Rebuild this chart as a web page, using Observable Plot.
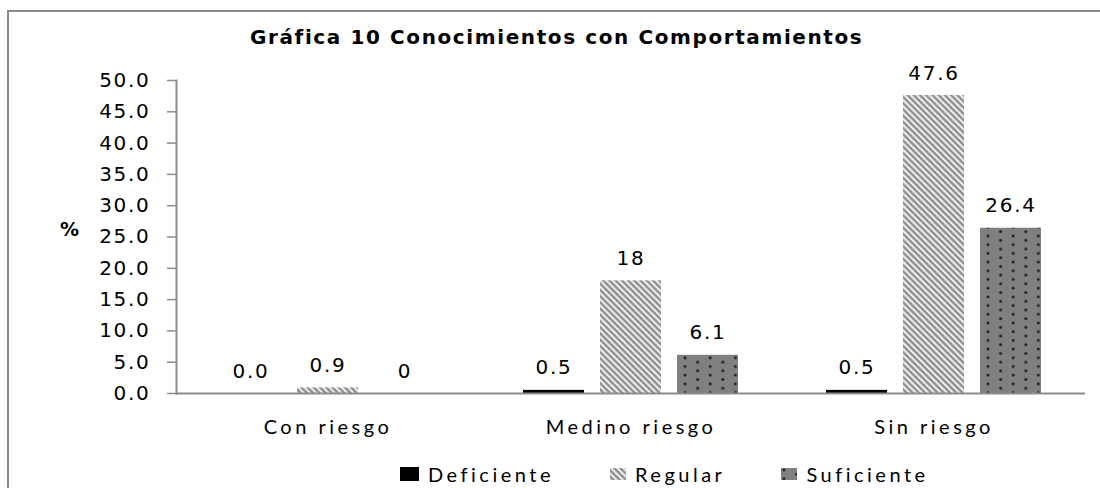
<!DOCTYPE html>
<html>
<head>
<meta charset="utf-8">
<script src="https://cdn.jsdelivr.net/npm/d3@7"></script>
<script src="https://cdn.jsdelivr.net/npm/@observablehq/plot@0.6"></script>
<style>
  html, body { margin: 0; padding: 0; background: #fff; }
  body { width: 1100px; height: 488px; overflow: hidden; position: relative; }
  #frame { position: absolute; left: 7px; top: 10px; width: 1200px; height: 600px;
           border-left: 2px solid #8a8a8a; border-top: 2px solid #8a8a8a; }
  #title { position: absolute; left: 250px; top: 25px; font: bold 20px "DejaVu Sans", sans-serif;
           letter-spacing: 1.6px; line-height: 24px; white-space: nowrap; color: #000; }
  #ylabel { position: absolute; left: 60px; top: 217px; font: bold 19px "DejaVu Sans", sans-serif;
            line-height: 24px; color: #000; }
  #chart { position: absolute; left: 0; top: 60px; }
  #legend { position: absolute; left: 400px; top: 462px; height: 24px; display: flex; align-items: center;
            font: 20px Lato, sans-serif; letter-spacing: 3.5px; line-height: 24px; color: #000; white-space: nowrap; }
  #legend .item { display: flex; align-items: center; margin-right: 56px; }
  #legend .sw { display: block; margin-right: 9px; }
  .chart text { letter-spacing: 1.7px; }
  .chart g[aria-label="fx-axis tick label"] text { letter-spacing: 3.5px; }
</style>
</head>
<body>
<svg width="0" height="0" style="position:absolute">
  <defs>
    <pattern id="stripes" patternUnits="userSpaceOnUse" width="8" height="4.4" patternTransform="rotate(45)">
      <rect x="0" y="0" width="8" height="4.4" fill="#ffffff"></rect>
      <rect x="0" y="0" width="8" height="0.6" fill="#b0b0b0"></rect>
      <rect x="0" y="0.6" width="8" height="1.9" fill="#858585"></rect>
      <rect x="0" y="2.5" width="8" height="0.6" fill="#b0b0b0"></rect>
    </pattern>
    <pattern id="dots" patternUnits="userSpaceOnUse" width="25.2" height="8.7">
      <rect x="0" y="0" width="25.2" height="8.7" fill="#808080"></rect>
      <circle cx="3" cy="2" r="1.5" fill="#1e1e1e"></circle>
      <circle cx="15.6" cy="6.35" r="1.5" fill="#1e1e1e"></circle>
    </pattern>
  </defs>
</svg>
<div id="frame"></div>
<div id="title">Gráfica 10 Conocimientos con Comportamientos</div>
<div id="ylabel">%</div>
<div id="chart"></div>
<div id="legend"></div>
<script>
const categories = ["Con riesgo", "Medino riesgo", "Sin riesgo"];
const series = ["Deficiente", "Regular", "Suficiente"];
const deficiente = [0.0, 0.5, 0.5];
const regular = [0.9, 18, 47.6];
const suficiente = [0, 6.1, 26.4];
const deficienteLabels = ["0.0", "0.5", "0.5"];
const regularLabels = ["0.9", "18", "47.6"];
const suficienteLabels = ["0", "6.1", "26.4"];
const yTicks = [0, 5, 10, 15, 20, 25, 30, 35, 40, 45, 50];
const seriesFills = ["#000000", "url(#stripes)", "url(#dots)"];

const values = [deficiente, regular, suficiente];
const labels = [deficienteLabels, regularLabels, suficienteLabels];
const data = [];
categories.forEach((c, i) => {
  series.forEach((s, j) => {
    data.push({category: c, series: s, value: values[j][i], label: labels[j][i]});
  });
});

const chart = Plot.plot({
  width: 1100,
  height: 390,
  marginTop: 20,
  marginBottom: 57,
  marginLeft: 175,
  marginRight: 15,
  className: "chart",
  style: {fontFamily: "DejaVu Sans", fontSize: "20px", color: "#000", background: "transparent", overflow: "visible"},
  fx: {domain: categories, padding: 0, label: null},
  x: {domain: series, paddingInner: 0.205, paddingOuter: 0.545, axis: null},
  y: {domain: [0, 50]},
  color: {domain: series, range: seriesFills},
  marks: [
    Plot.barY(data, {fx: "category", x: "series", y: "value", fill: "series"}),
    Plot.ruleY([0], {stroke: "#8c8c8c", strokeWidth: 2}),
    Plot.frame({anchor: "left", facetAnchor: "left", stroke: "#8c8c8c", strokeWidth: 2}),
    Plot.axisY(yTicks, {
      tickSize: 9, tickPadding: 17, tickFormat: d => d.toFixed(1),
      stroke: "#8c8c8c", strokeWidth: 1.5, fill: "#000", label: null,
      fontSize: 20, fontFamily: "DejaVu Sans"
    }),
    Plot.axisFx({anchor: "bottom", tickSize: 0, tickPadding: 26, label: null,
      fontFamily: "Lato", fontSize: 20, fill: "#000"}),
    Plot.text(data, {fx: "category", x: "series", y: "value", text: "label",
      dy: -16, lineAnchor: "bottom", fontFamily: "DejaVu Sans", fontSize: 20, fill: "#000"})
  ]
});
document.getElementById("chart").appendChild(chart);

// legend
const legend = document.getElementById("legend");
const swSizes = [[19, 14], [16, 12], [16, 12]];
series.forEach((s, j) => {
  const item = document.createElement("div");
  item.className = "item";
  const [w, h] = swSizes[j];
  const sw = document.createElementNS("http://www.w3.org/2000/svg", "svg");
  sw.setAttribute("width", w);
  sw.setAttribute("height", h);
  sw.setAttribute("class", "sw");
  const r = document.createElementNS("http://www.w3.org/2000/svg", "rect");
  r.setAttribute("width", w);
  r.setAttribute("height", h);
  r.setAttribute("fill", seriesFills[j]);
  sw.appendChild(r);
  const t = document.createElement("span");
  t.textContent = s;
  item.appendChild(sw);
  item.appendChild(t);
  legend.appendChild(item);
});
</script>
</body>
</html>
